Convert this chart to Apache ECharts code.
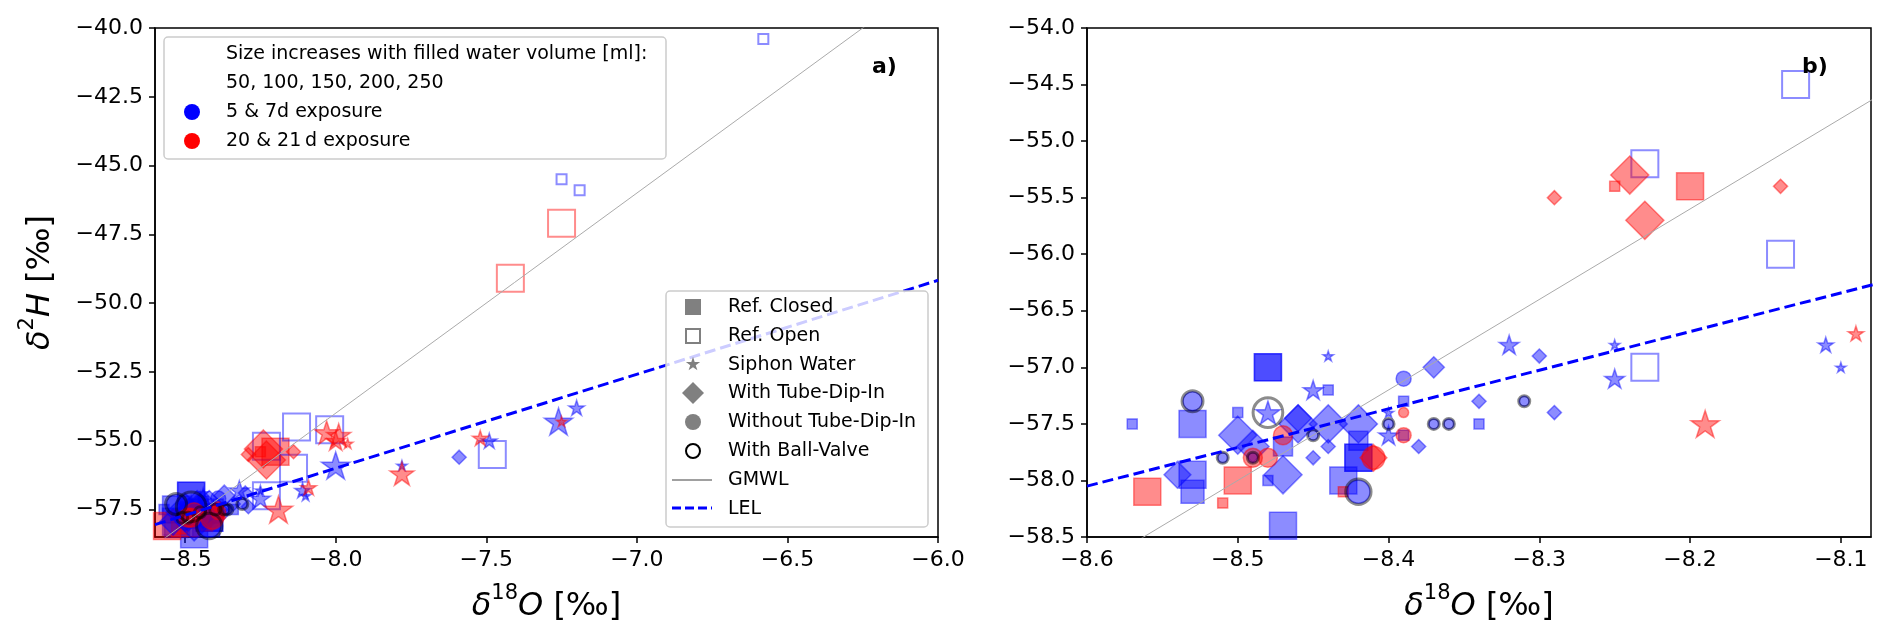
<!DOCTYPE html>
<html>
<head>
<meta charset="utf-8">
<script src="https://cdn.jsdelivr.net/npm/echarts@6/dist/echarts.min.js"></script>
<style>
  html, body { margin: 0; padding: 0; background: #fff; }
  #chart { width: 1892px; height: 638px; }
</style>
</head>
<body>
<div id="chart"></div>
<script>
  // values are [δ18O, δ2H, filled volume ml]
  var refClosedBlue = [
    [-8.48, -57.0, 250], [-8.48, -57.0, 250], [-8.57, -57.5, 50], [-8.53, -57.5, 250],
    [-8.50, -57.4, 50], [-8.44, -57.2, 50], [-8.39, -57.3, 50], [-8.34, -57.5, 50],
    [-8.39, -57.6, 50], [-8.53, -57.95, 250], [-8.53, -58.1, 200], [-8.47, -58.4, 250],
    [-8.42, -57.8, 250], [-8.42, -57.8, 250], [-8.43, -58.0, 250], [-8.47, -57.7, 150],
    [-8.48, -58.0, 50], [-8.42, -57.65, 150]
  ];
  var refClosedRed = [
    [-8.56, -58.1, 250], [-8.50, -58.0, 250], [-8.51, -58.2, 50], [-8.43, -58.1, 50],
    [-8.25, -55.4, 50], [-8.20, -55.4, 250]
  ];
  var refOpenBlue = [
    [-8.13, -54.5, 250], [-8.23, -55.2, 250], [-8.14, -56.0, 250], [-8.23, -57.0, 250],
    [-8.02, -54.6, 250], [-7.48, -55.5, 250], [-7.25, -45.5, 50], [-7.19, -45.9, 50],
    [-6.58, -40.4, 50]
  ];
  var refOpenRed = [[-7.25, -47.1, 250], [-7.42, -49.1, 250]];
  var siphonBlue = [
    [-8.32, -56.8, 150], [-8.25, -56.8, 50], [-8.25, -57.1, 150], [-8.11, -56.8, 100],
    [-8.10, -57.0, 50], [-8.44, -56.9, 50], [-8.45, -57.2, 150], [-8.48, -57.4, 200],
    [-8.40, -57.4, 50], [-8.40, -57.6, 150], [-8.00, -55.9, 250], [-7.78, -55.9, 50],
    [-7.49, -55.0, 100], [-7.26, -54.3, 250], [-7.20, -53.8, 100]
  ];
  var siphonRed = [
    [-8.19, -57.5, 250], [-8.09, -56.7, 100], [-8.03, -54.7, 200], [-7.99, -54.8, 200],
    [-8.00, -55.0, 150], [-7.96, -55.1, 50], [-7.78, -56.2, 200], [-7.52, -54.9, 100],
    [-7.25, -54.3, 50]
  ];
  var tubeBlue = [
    [-8.37, -57.0, 100], [-8.30, -56.9, 50], [-8.34, -57.3, 50], [-8.29, -57.4, 50],
    [-8.38, -57.7, 50], [-8.46, -57.5, 250], [-8.44, -57.5, 250], [-8.42, -57.5, 250],
    [-8.46, -57.45, 150], [-8.50, -57.6, 250], [-8.49, -57.7, 200], [-8.47, -57.95, 250],
    [-8.45, -57.8, 50], [-8.44, -57.7, 50], [-8.54, -57.95, 150], [-7.59, -55.6, 50]
  ];
  var tubeRed = [
    [-8.24, -55.3, 250], [-8.29, -55.5, 50], [-8.23, -55.7, 250], [-8.14, -55.4, 50],
    [-8.41, -57.8, 150]
  ];
  var noTubeBlue = [
    [-8.39, -57.1, 100], [-8.53, -57.3, 150], [-8.31, -57.3, 50], [-8.37, -57.5, 50],
    [-8.36, -57.5, 50], [-8.45, -57.6, 50], [-8.40, -57.5, 50], [-8.42, -58.1, 200],
    [-8.51, -57.8, 50], [-8.49, -57.8, 50]
  ];
  var noTubeRed = [
    [-8.47, -57.6, 150], [-8.39, -57.4, 50], [-8.39, -57.6, 100], [-8.49, -57.8, 150],
    [-8.48, -57.8, 150], [-8.41, -57.8, 200]
  ];
  var ballValve = [
    [-8.53, -57.3, 150], [-8.48, -57.4, 250], [-8.31, -57.3, 50], [-8.37, -57.5, 50],
    [-8.36, -57.5, 50], [-8.45, -57.6, 50], [-8.40, -57.5, 50], [-8.42, -58.1, 200],
    [-8.51, -57.8, 50], [-8.49, -57.8, 50]
  ];
  var gmwl = [[-8.7, -59.6], [-6.0, -38.0]];
  var lel = [[-8.6, -58.05], [-6.0, -49.17]];

  var leftXTicks = [-8.5, -8.0, -7.5, -7.0, -6.5, -6.0];
  var leftYTicks = [-57.5, -55.0, -52.5, -50.0, -47.5, -45.0, -42.5, -40.0];
  var rightXTicks = [-8.6, -8.5, -8.4, -8.3, -8.2, -8.1];
  var rightYTicks = [-58.5, -58.0, -57.5, -57.0, -56.5, -56.0, -55.5, -55.0, -54.5, -54.0];

  var FONT = '"DejaVu Sans", sans-serif';
  var BLUE = 'rgba(0,0,255,0.45)';
  var RED = 'rgba(255,0,0,0.45)';
  var SIZE = {50: 10, 100: 15, 150: 19, 200: 23, 250: 27};
  var STAR = 'path://M50 0L61.23 34.55L97.55 34.55L68.17 55.9L79.39 90.45L50 69.1L20.61 90.45L31.83 55.9L2.45 34.55L38.77 34.55Z';

  function fmt(v) {
    return (v < 0 ? '\u2212' : '') + Math.abs(v).toFixed(1);
  }

  function xAxis(grid, min, max, ticks) {
    return {
      type: 'value', gridIndex: grid, min: min, max: max,
      name: '{i|δ}{s|18}{i|O}{n| [‰]}', nameLocation: 'middle', nameGap: 46,
      nameTextStyle: {
        color: '#000', fontFamily: FONT, fontSize: 32,
        rich: {
          i: {fontStyle: 'italic', fontSize: 32, fontFamily: FONT, lineHeight: 40, verticalAlign: 'bottom'},
          s: {fontSize: 21, fontFamily: FONT, lineHeight: 40, verticalAlign: 'top'},
          n: {fontSize: 32, fontFamily: FONT, lineHeight: 40, verticalAlign: 'bottom'}
        }
      },
      axisLine: {show: true, lineStyle: {color: '#000', width: 1.5}},
      axisTick: {show: true, length: 6, customValues: ticks, lineStyle: {color: '#000', width: 1.5}},
      axisLabel: {customValues: ticks, formatter: fmt, color: '#000', fontFamily: FONT, fontSize: 22, margin: 12},
      splitLine: {show: false}
    };
  }

  function yAxis(grid, min, max, ticks, named) {
    var ax = {
      type: 'value', gridIndex: grid, min: min, max: max,
      axisLine: {show: true, lineStyle: {color: '#000', width: 1.5}},
      axisTick: {show: true, length: 6, customValues: ticks, lineStyle: {color: '#000', width: 1.5}},
      axisLabel: {customValues: ticks, formatter: fmt, color: '#000', fontFamily: FONT, fontSize: 22, margin: 12},
      splitLine: {show: false}
    };
    if (named) {
      ax.name = '{i|δ}{s|2}{i|H}{n| [‰]}';
      ax.nameLocation = 'middle';
      ax.nameGap = 98;
      ax.nameTextStyle = {
        color: '#000', fontFamily: FONT, fontSize: 32,
        rich: {
          i: {fontStyle: 'italic', fontSize: 32, fontFamily: FONT, lineHeight: 40, verticalAlign: 'bottom'},
          s: {fontSize: 21, fontFamily: FONT, lineHeight: 40, verticalAlign: 'top'},
          n: {fontSize: 32, fontFamily: FONT, lineHeight: 40, verticalAlign: 'bottom'}
        }
      };
    }
    return ax;
  }

  function scatter(data, grid, symbol, color, filled, k, bw) {
    return {
      type: 'scatter', xAxisIndex: grid, yAxisIndex: grid,
      data: data, symbol: symbol, symbolKeepAspect: true,
      symbolSize: function (v) { return SIZE[v[2]] * k; },
      itemStyle: {
        color: filled ? color : 'rgba(0,0,0,0)', borderColor: color,
        borderWidth: bw, opacity: 1
      },
      silent: true, z: 2
    };
  }

  function line(data, grid, style) {
    return {
      type: 'line', xAxisIndex: grid, yAxisIndex: grid, data: data,
      symbol: 'none', lineStyle: style, silent: true, z: 4
    };
  }

  var series = [];
  [0, 1].forEach(function (g) {
    series.push(
      scatter(refClosedBlue, g, 'rect', BLUE, true, 1, 1.5),
      scatter(refClosedRed, g, 'rect', RED, true, 1, 1.5),
      scatter(refOpenBlue, g, 'rect', BLUE, false, 1, 2),
      scatter(refOpenRed, g, 'rect', RED, false, 1, 2),
      scatter(tubeBlue, g, 'diamond', BLUE, true, 1.41, 1.5),
      scatter(tubeRed, g, 'diamond', RED, true, 1.41, 1.5),
      scatter(siphonBlue, g, STAR, BLUE, true, 1.05, 1.5),
      scatter(siphonRed, g, STAR, RED, true, 1.05, 1.5),
      scatter(noTubeBlue, g, 'circle', BLUE, true, 1, 1.5),
      scatter(noTubeRed, g, 'circle', RED, true, 1, 1.5),
      scatter(ballValve, g, 'circle', 'rgba(0,0,0,0.45)', false, 1.1, 3),
      line(gmwl, g, {color: '#aaaaaa', width: 1}),
      line(lel, g, {color: '#0000ff', width: 3, type: [11, 5]})
    );
  });

  // legend drawing helpers
  var starPts = [[50, 0], [61.23, 34.55], [97.55, 34.55], [68.17, 55.9], [79.39, 90.45],
    [50, 69.1], [20.61, 90.45], [31.83, 55.9], [2.45, 34.55], [38.77, 34.55]];
  function starAt(cx, cy, s) {
    return starPts.map(function (p) { return [cx + (p[0] - 50) * s / 100, cy + (p[1] - 48) * s / 100]; });
  }
  function txt(t, x, y, size, weight) {
    return {type: 'text', z: 101, style: {text: t, x: x, y: y, fill: '#000',
      font: (weight || 'normal') + ' ' + size + 'px ' + FONT, verticalAlign: 'middle', align: 'left'}};
  }

  var sizeNote = ['Size increases with filled water volume [ml]:', '50, 100, 150, 200, 250'];
  var exposureNames = ['5 & 7d exposure', '20 & 21\u2009d exposure'];
  var shapeNames = ['Ref. Closed', 'Ref. Open', 'Siphon Water', 'With Tube-Dip-In',
    'Without Tube-Dip-In', 'With Ball-Valve', 'GMWL', 'LEL'];

  var GREY = '#808080';
  var graphic = [
    {type: 'rect', z: 100, shape: {x: 164, y: 37, width: 502, height: 122, r: 4},
      style: {fill: 'rgba(255,255,255,0.8)', stroke: '#cccccc', lineWidth: 1.5}},
    txt(sizeNote[0], 226, 54, 19), txt(sizeNote[1], 226, 83, 19),
    {type: 'circle', z: 101, shape: {cx: 192, cy: 112, r: 8}, style: {fill: '#0000ff'}},
    txt(exposureNames[0], 226, 112, 19),
    {type: 'circle', z: 101, shape: {cx: 192, cy: 141, r: 8}, style: {fill: '#ff0000'}},
    txt(exposureNames[1], 226, 141, 19),

    {type: 'rect', z: 100, shape: {x: 666, y: 291, width: 262, height: 236, r: 4},
      style: {fill: 'rgba(255,255,255,0.8)', stroke: '#cccccc', lineWidth: 1.5}},
    {type: 'rect', z: 101, shape: {x: 685, y: 299, width: 16, height: 16}, style: {fill: GREY}},
    {type: 'rect', z: 101, shape: {x: 686, y: 329, width: 14, height: 14}, style: {fill: 'none', stroke: GREY, lineWidth: 2}},
    {type: 'polygon', z: 101, shape: {points: starAt(693, 364, 15)}, style: {fill: GREY}},
    {type: 'polygon', z: 101, shape: {points: [[693, 382], [704, 393], [693, 404], [682, 393]]}, style: {fill: GREY}},
    {type: 'circle', z: 101, shape: {cx: 693, cy: 422, r: 8}, style: {fill: GREY}},
    {type: 'circle', z: 101, shape: {cx: 693, cy: 451, r: 7}, style: {fill: 'none', stroke: '#000', lineWidth: 2}},
    {type: 'line', z: 101, shape: {x1: 672, y1: 480, x2: 712, y2: 480}, style: {stroke: GREY, lineWidth: 1.5}},
    {type: 'line', z: 101, shape: {x1: 672, y1: 508, x2: 712, y2: 508}, style: {stroke: '#0000ff', lineWidth: 3, lineDash: [9, 4]}},

    txt('a)', 872, 67, 22, 'bold'),
    txt('b)', 1802, 67, 22, 'bold')
  ];
  shapeNames.forEach(function (n, i) {
    graphic.push(txt(n, 728, 307 + i * 28.8, 19));
  });

  var chart = echarts.init(document.getElementById('chart'), null, {renderer: 'canvas'});
  chart.setOption({
    backgroundColor: '#ffffff',
    animation: false,
    grid: [
      {left: 155, top: 28, width: 783, height: 509, show: true, borderColor: '#000', borderWidth: 1.5, backgroundColor: 'transparent'},
      {left: 1087, top: 28, width: 784, height: 509, show: true, borderColor: '#000', borderWidth: 1.5, backgroundColor: 'transparent'}
    ],
    xAxis: [xAxis(0, -8.6, -6.0, leftXTicks), xAxis(1, -8.6, -8.08, rightXTicks)],
    yAxis: [yAxis(0, -58.5, -40, leftYTicks, true), yAxis(1, -58.5, -54, rightYTicks, false)],
    series: series,
    graphic: graphic
  });
</script>
</body>
</html>
